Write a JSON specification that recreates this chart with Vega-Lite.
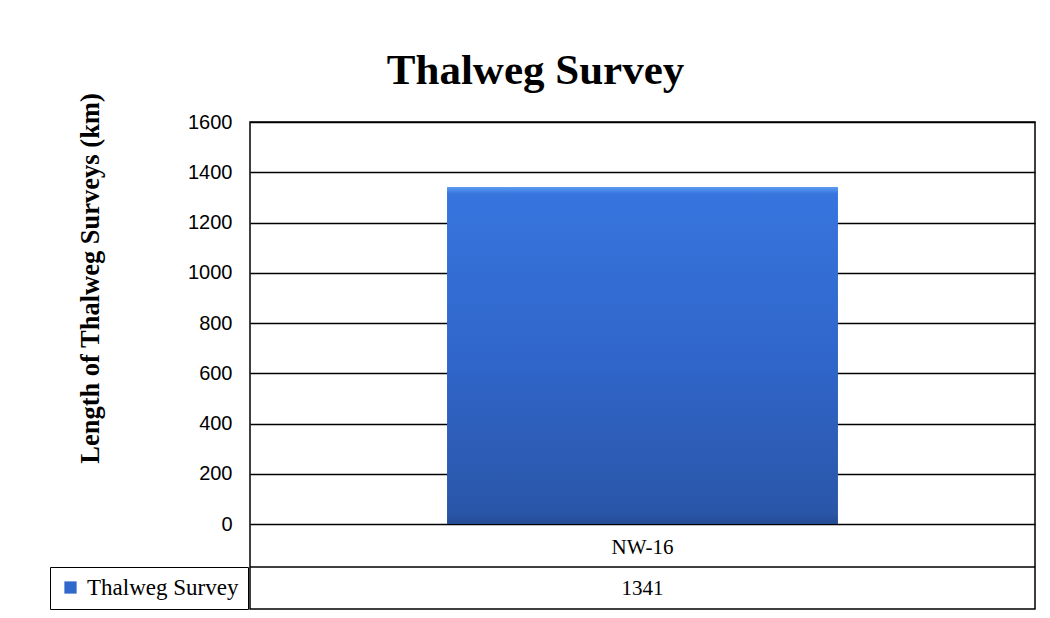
{
  "$schema": "https://vega.github.io/schema/vega-lite/v6.json",
  "width": 785,
  "height": 487,
  "autosize": {"type": "none"},
  "padding": {"left": 250, "top": 122, "right": 15, "bottom": 9},
  "background": "white",
  "title": {
    "text": "Thalweg Survey",
    "font": "Liberation Serif",
    "fontWeight": "bold",
    "fontSize": 43,
    "color": "black",
    "anchor": "middle",
    "dx": -107,
    "baseline": "alphabetic",
    "offset": -35
  },
  "data": {"values": [{"category": "NW-16", "value": 1341, "series": "Thalweg Survey"}]},
  "config": {
    "view": {"stroke": "black", "strokeWidth": 1.5},
    "legend": {
      "orient": "none",
      "legendX": -200,
      "legendY": 445,
      "strokeColor": "black",
      "padding": 9,
      "symbolType": "square",
      "symbolSize": 150,
      "symbolStrokeWidth": 0,
      "symbolOpacity": 1,
      "labelFont": "Liberation Serif",
      "labelFontSize": 23,
      "labelColor": "black",
      "labelOffset": 5,
      "title": null
    }
  },
  "encoding": {
    "y": {"type": "quantitative", "scale": {"domain": [-338, 1600], "nice": false, "zero": false}}
  },
  "layer": [
    {
      "mark": {
        "type": "bar",
        "fill": {
          "gradient": "linear",
          "x1": 0, "y1": 0, "x2": 0, "y2": 1,
          "stops": [
            {"offset": 0, "color": "#5d9bf2"},
            {"offset": 0.02, "color": "#3775de"},
            {"offset": 0.5, "color": "#3066cb"},
            {"offset": 0.97, "color": "#2a56a8"},
            {"offset": 1, "color": "#244a92"}
          ]
        }
      },
      "encoding": {
        "x": {"field": "category", "type": "nominal", "axis": null, "scale": {"paddingInner": 0, "paddingOuter": 0.504}},
        "y": {
          "field": "value",
          "type": "quantitative",
          "axis": {
            "title": "Length of Thalweg Surveys (km)",
            "values": [0, 200, 400, 600, 800, 1000, 1200, 1400, 1600],
            "format": "d",
            "grid": true,
            "gridColor": "black",
            "gridWidth": 1.5,
            "gridOpacity": 1,
            "domain": false,
            "ticks": false,
            "labelFont": "Liberation Sans",
            "labelFontSize": 20,
            "labelColor": "black",
            "labelPadding": 18,
            "titleFont": "Liberation Serif",
            "titleFontWeight": "bold",
            "titleFontSize": 26.5,
            "titleColor": "black",
            "titleAngle": -90,
            "titleAlign": "center",
            "titleBaseline": "middle",
            "titleX": -160,
            "titleY": 156
          }
        }
      }
    },
    {
      "mark": {"type": "square", "opacity": 0, "filled": true},
      "encoding": {
        "x": {"field": "category", "type": "nominal"},
        "y": {"field": "value", "type": "quantitative"},
        "fill": {"field": "series", "type": "nominal", "scale": {"range": ["#3068cc"]}}
      }
    },
    {
      "mark": {"type": "rule", "color": "black", "strokeWidth": 1.5},
      "encoding": {"y": {"datum": -171}}
    },
    {
      "mark": {"type": "text", "font": "Liberation Serif", "fontSize": 21, "color": "black", "baseline": "middle"},
      "encoding": {"x": {"field": "category", "type": "nominal"}, "y": {"datum": -95}, "text": {"field": "category"}}
    },
    {
      "mark": {"type": "text", "font": "Liberation Serif", "fontSize": 21, "color": "black", "baseline": "middle"},
      "encoding": {"x": {"field": "category", "type": "nominal"}, "y": {"datum": -258}, "text": {"field": "value", "type": "quantitative"}}
    }
  ]
}
